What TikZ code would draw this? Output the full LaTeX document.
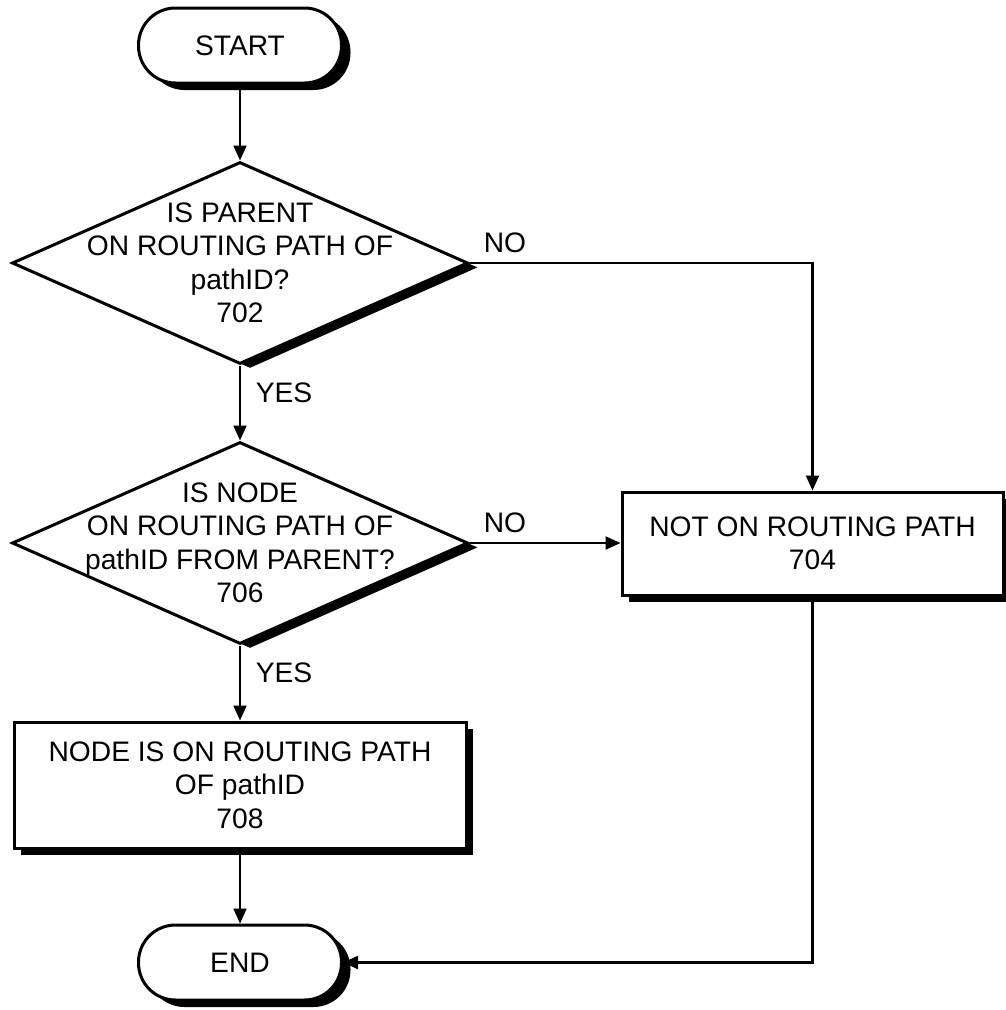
\documentclass[tikz,border=0pt]{standalone}
\usepackage{fontspec}
\setmainfont{Liberation Sans}
\usetikzlibrary{shapes.geometric,shadows,arrows.meta}
\begin{document}
\begin{tikzpicture}[x=1pt,y=-1pt,
  every node/.style={font=\fontsize{28.2}{33.5}\selectfont},
  term/.style={draw, line width=3pt, fill=white, rectangle, rounded corners=37pt,
    minimum width=203pt, minimum height=75pt,
    drop shadow={shadow xshift=9pt, shadow yshift=-7pt, opacity=1, fill=black}},
  dec/.style={draw, diamond, line width=3pt, fill=white, inner sep=0pt,
    minimum width=456pt, minimum height=202pt,
    drop shadow={shadow xshift=10pt, shadow yshift=-4.4pt, opacity=1, fill=black}},
  proc/.style={draw, rectangle, line width=3pt, fill=white, align=center,
    drop shadow={shadow xshift=7pt, shadow yshift=-7pt, opacity=1, fill=black}},
  txt/.style={align=center, inner sep=0pt},
  lbl/.style={inner sep=0pt},
  arr/.style={line width=2.2pt, -{Triangle[length=15pt,width=13pt]}}
]
\useasboundingbox (0,0) rectangle (1006,1010);

\node[term] (start) at (240,45.5) {START};
\node[dec] (d1) at (240,263) {};
\node[txt] (t1) at (d1) {IS PARENT\\ON ROUTING PATH OF\\pathID?\\702};
\node[dec] (d2) at (240,543) {};
\node[txt] (t2) at (d2) {IS NODE\\ON ROUTING PATH OF\\pathID FROM PARENT?\\706};
\node[proc, minimum width=381pt, minimum height=103pt] (b704) at (812.5,543.5) {NOT ON ROUTING PATH\\704};
\node[proc, minimum width=452pt, minimum height=126pt] (b708) at (240,785) {NODE IS ON ROUTING PATH\\OF pathID\\708};
\node[term] (end) at (240,962.5) {END};

\node[lbl] (no1) at (505,243) {NO};
\node[lbl] (no2) at (505,523) {NO};
\node[lbl] (yes1) at (284,393) {YES};
\node[lbl] (yes2) at (284,673) {YES};

\draw[arr] (start.south) -- (d1.north);
\draw[arr] (d1.east) -| (b704.north);
\draw[arr] (d1.south) -- (d2.north);
\draw[arr] (d2.east) -- (d2.east -| b704.west);
\draw[arr] (d2.south) -- (b708.north);
\draw[arr] (b708.south) -- (end.north);
\draw[arr] (b704.south) |- (end.east);
\end{tikzpicture}
\end{document}
